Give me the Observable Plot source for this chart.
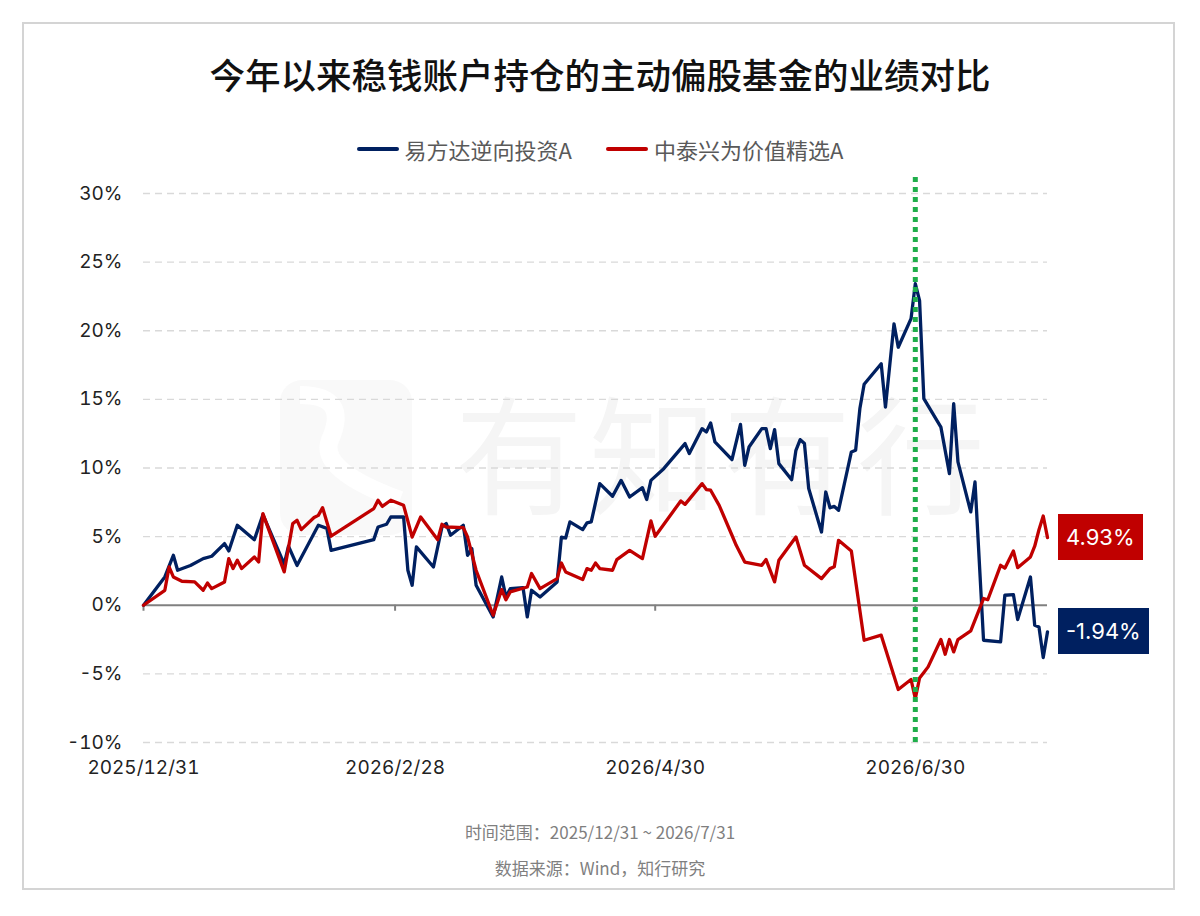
<!DOCTYPE html>
<html><head><meta charset="utf-8">
<script src="https://cdn.jsdelivr.net/npm/d3@7"></script>
<script src="https://cdn.jsdelivr.net/npm/@observablehq/plot@0.6"></script>
<style>
html,body{margin:0;padding:0;background:#fff;}
body{width:1200px;height:916px;position:relative;overflow:hidden;font-family:"Noto Sans CJK SC","Noto Sans",sans-serif;}
#frame{position:absolute;left:22px;top:22px;width:1153px;height:868px;border:2px solid #d4d4d4;box-sizing:border-box;}
#title{position:absolute;left:0;width:1200px;top:49px;text-align:center;font-size:35.5px;color:#111;font-weight:500;line-height:50px;}
#legend{position:absolute;left:0;width:1200px;top:125px;text-align:center;font-size:22px;color:#595959;line-height:32px;}
#legend span.item{display:inline-flex;align-items:center;margin:0 17px;}
#legend span.sw{display:inline-block;width:42px;height:4px;margin-right:6px;border-radius:2px;}
#wm{position:absolute;left:0;top:0;width:1200px;height:916px;pointer-events:none;}
#chart{position:absolute;left:0;top:160px;}
.caption{position:absolute;left:0;width:1200px;text-align:center;font-size:17px;color:#7f7f7f;}
.endlab{position:absolute;height:46px;line-height:46px;padding:0 8px;color:#fff;font-size:22px;font-family:Inter,"Noto Sans CJK SC",sans-serif;}
</style></head>
<body>
<div id="frame"></div>
<svg id="wm" width="1200" height="916">
  <rect x="280" y="380" width="132" height="155" rx="22" fill="#f9f9f9"/>
  <path d="M300 395 Q350 395 330 440 Q318 470 400 500" stroke="#fff" stroke-width="18" fill="none"/>
  <text x="455" y="505" font-size="128" fill="#f5f5f5" font-family="Noto Sans CJK SC" letter-spacing="6">有知有行</text>
</svg>
<div id="title">今年以来稳钱账户持仓的主动偏股基金的业绩对比</div>
<div id="legend"></div>
<div id="chart"></div>
<div class="caption" style="top:819px;">时间范围：2025/12/31 ~ 2026/7/31</div>
<div class="caption" style="top:855px;">数据来源：Wind，知行研究</div>
<script>
// ---- data ----
const seriesNames = ["易方达逆向投资A", "中泰兴为价值精选A"];
const seriesColors = ["#002060", "#c00000"];

const blueDates = ["2025-12-31","2026-01-05","2026-01-07","2026-01-08","2026-01-11","2026-01-14","2026-01-16","2026-01-19","2026-01-20","2026-01-22","2026-01-26","2026-01-28","2026-02-02","2026-02-03","2026-02-05","2026-02-10","2026-02-12","2026-02-13","2026-02-23","2026-02-24","2026-02-26","2026-02-27","2026-03-02","2026-03-03","2026-03-04","2026-03-05","2026-03-09","2026-03-11","2026-03-12","2026-03-13","2026-03-16","2026-03-17","2026-03-18","2026-03-19","2026-03-23","2026-03-25","2026-03-26","2026-03-27","2026-03-30","2026-03-31","2026-04-01","2026-04-03","2026-04-07","2026-04-08","2026-04-09","2026-04-10","2026-04-13","2026-04-14","2026-04-15","2026-04-17","2026-04-20","2026-04-22","2026-04-24","2026-04-27","2026-04-28","2026-04-29","2026-05-02","2026-05-05","2026-05-07","2026-05-08","2026-05-11","2026-05-12","2026-05-13","2026-05-14","2026-05-18","2026-05-20","2026-05-21","2026-05-22","2026-05-25","2026-05-26","2026-05-27","2026-05-28","2026-05-29","2026-06-01","2026-06-02","2026-06-03","2026-06-04","2026-06-05","2026-06-08","2026-06-09","2026-06-10","2026-06-11","2026-06-12","2026-06-15","2026-06-16","2026-06-17","2026-06-18","2026-06-22","2026-06-23","2026-06-25","2026-06-26","2026-06-29","2026-06-30","2026-07-01","2026-07-02","2026-07-06","2026-07-08","2026-07-09","2026-07-10","2026-07-13","2026-07-14","2026-07-16","2026-07-20","2026-07-21","2026-07-23","2026-07-24","2026-07-27","2026-07-28","2026-07-29","2026-07-30","2026-07-31"];
const blueValues = [0,2.06,3.64,2.55,2.9,3.4,3.57,4.49,3.96,5.83,4.78,6.6,3.0,4.3,2.9,5.83,5.6,4.0,4.78,5.7,5.9,6.43,6.43,2.55,1.46,4.25,2.79,5.7,5.95,5.1,5.83,3.64,4.13,1.46,-0.85,2.06,0.6,1.21,1.29,-0.85,1.09,0.6,1.7,4.97,4.9,6.07,5.51,6.0,6.07,8.86,7.94,9.1,7.89,8.57,7.7,9.1,9.95,11.05,11.78,11.05,12.87,12.62,13.28,11.9,10.61,13.18,10.2,11.53,12.87,12.87,11.41,12.8,10.32,9.15,11.29,12.07,11.78,8.5,5.34,8.25,7.1,7.2,6.92,11.17,11.29,14.33,16.1,17.6,14.44,20.5,18.8,20.88,23.43,22.2,15.05,12.98,9.59,14.69,10.44,6.8,8.98,-2.55,-2.67,0.73,0.78,-1.04,2.06,-1.46,-1.58,-3.81,-1.94];

const redDates = ["2025-12-31","2026-01-05","2026-01-06","2026-01-07","2026-01-09","2026-01-12","2026-01-14","2026-01-15","2026-01-16","2026-01-19","2026-01-20","2026-01-21","2026-01-22","2026-01-23","2026-01-26","2026-01-27","2026-01-28","2026-02-02","2026-02-04","2026-02-05","2026-02-06","2026-02-09","2026-02-10","2026-02-11","2026-02-13","2026-02-23","2026-02-24","2026-02-25","2026-02-27","2026-03-02","2026-03-04","2026-03-06","2026-03-10","2026-03-11","2026-03-12","2026-03-16","2026-03-17","2026-03-19","2026-03-23","2026-03-25","2026-03-26","2026-03-27","2026-03-31","2026-04-01","2026-04-03","2026-04-07","2026-04-08","2026-04-09","2026-04-13","2026-04-14","2026-04-15","2026-04-16","2026-04-17","2026-04-20","2026-04-21","2026-04-24","2026-04-27","2026-04-29","2026-04-30","2026-05-06","2026-05-07","2026-05-11","2026-05-12","2026-05-13","2026-05-15","2026-05-18","2026-05-19","2026-05-21","2026-05-25","2026-05-26","2026-05-28","2026-05-29","2026-06-02","2026-06-04","2026-06-08","2026-06-10","2026-06-11","2026-06-12","2026-06-15","2026-06-18","2026-06-22","2026-06-26","2026-06-29","2026-06-30","2026-07-01","2026-07-02","2026-07-03","2026-07-06","2026-07-07","2026-07-08","2026-07-09","2026-07-10","2026-07-13","2026-07-16","2026-07-17","2026-07-20","2026-07-21","2026-07-23","2026-07-24","2026-07-27","2026-07-28","2026-07-29","2026-07-30","2026-07-31"];
const redValues = [0,1.09,2.79,2.06,1.75,1.7,1.09,1.62,1.21,1.7,3.4,2.67,3.28,2.67,3.52,3.15,6.68,2.43,5.95,6.19,5.51,6.39,6.55,7.11,5.03,7.04,7.65,7.2,7.65,7.28,4.97,6.43,4.78,5.9,5.7,5.66,4.97,2.55,-0.73,1.14,0.4,0.97,1.33,2.31,1.21,1.94,3.08,2.43,1.87,2.67,2.55,3.08,2.67,2.55,3.33,4.0,3.4,6.14,5.03,7.6,7.35,8.86,8.43,8.38,7.28,5.1,4.37,3.15,2.91,3.33,1.7,3.28,4.97,2.91,1.94,2.67,2.8,4.73,3.96,-2.55,-2.18,-6.14,-5.41,-6.8,-5.3,-4.9,-4.49,-2.5,-3.57,-2.5,-3.4,-2.5,-1.87,0.49,0.4,2.91,2.7,3.96,2.74,3.52,4.3,5.5,6.5,4.93];

const yTicks = [-10,-5,0,5,10,15,20,25,30];
const xTickDates = ["2025-12-31","2026-02-28","2026-04-30","2026-06-30"];
const xTickLabels = ["2025/12/31","2026/2/28","2026/4/30","2026/6/30"];
const xDomain = ["2025-12-31","2026-07-31"];
const markerDate = "2026-06-30";
const endLabels = ["-1.94%","4.93%"];

// ---- build ----
const P = d3.utcParse("%Y-%m-%d");
const blue = blueDates.map((d,i)=>({date:P(d), value:blueValues[i]}));
const red = redDates.map((d,i)=>({date:P(d), value:redValues[i]}));
const xt = xTickDates.map(P);

const chart = Plot.plot({
  width: 1200, height: 640,
  marginTop: 33, marginBottom: 58, marginLeft: 143, marginRight: 153,
  style: {fontFamily: "Inter, 'Noto Sans CJK SC', sans-serif", background: "transparent", overflow: "visible"},
  x: {type: "utc", domain: xDomain.map(P)},
  y: {domain: [-10, 30]},
  marks: [
    Plot.gridY(yTicks.filter(d => d !== 0), {stroke: "#d9d9d9", strokeOpacity: 1, strokeDasharray: "7,5", strokeWidth: 1.3}),
    Plot.axisY({ticks: yTicks, tickSize: 0, tickPadding: 21, tickFormat: d => d + "%", fontSize: 19, fill: "#222", label: null}),
    Plot.axisX({ticks: xt, tickSize: 0, tickPadding: 18, tickFormat: (d, i) => xTickLabels[i], fontSize: 19, fill: "#222", label: null}),
    Plot.ruleY([0], {stroke: "#808080", strokeWidth: 2}),
    Plot.ruleX(xt, {y1: 0, y2: 0, insetBottom: -6, stroke: "#808080", strokeWidth: 2}),
    Plot.line(blue, {x: "date", y: "value", stroke: seriesColors[0], strokeWidth: 3.3, strokeLinejoin: "round"}),
    Plot.line(red, {x: "date", y: "value", stroke: seriesColors[1], strokeWidth: 3.3, strokeLinejoin: "round"}),
    Plot.ruleX([P(markerDate)], {y1: -10, y2: 31.3, stroke: "#1fae4b", strokeWidth: 5, strokeDasharray: "5,5"})
  ]
});
document.getElementById("chart").appendChild(chart);

// legend
const lg = document.getElementById("legend");
seriesNames.forEach((n, i) => {
  const s = document.createElement("span"); s.className = "item";
  s.innerHTML = `<span class="sw" style="background:${seriesColors[i]}"></span>${n}`;
  lg.appendChild(s);
});

// end labels using plot scales
const sx = chart.scale("x"), sy = chart.scale("y");
[[blue, 0], [red, 1]].forEach(([data, i]) => {
  const last = data[data.length - 1];
  const div = document.createElement("div");
  div.className = "endlab";
  div.style.background = seriesColors[i];
  div.textContent = endLabels[i];
  div.style.left = (sx.apply(last.date) + 11) + "px";
  div.style.top = (160 + sy.apply(last.value) - 23) + "px";
  document.body.appendChild(div);
});
</script>
</body></html>
